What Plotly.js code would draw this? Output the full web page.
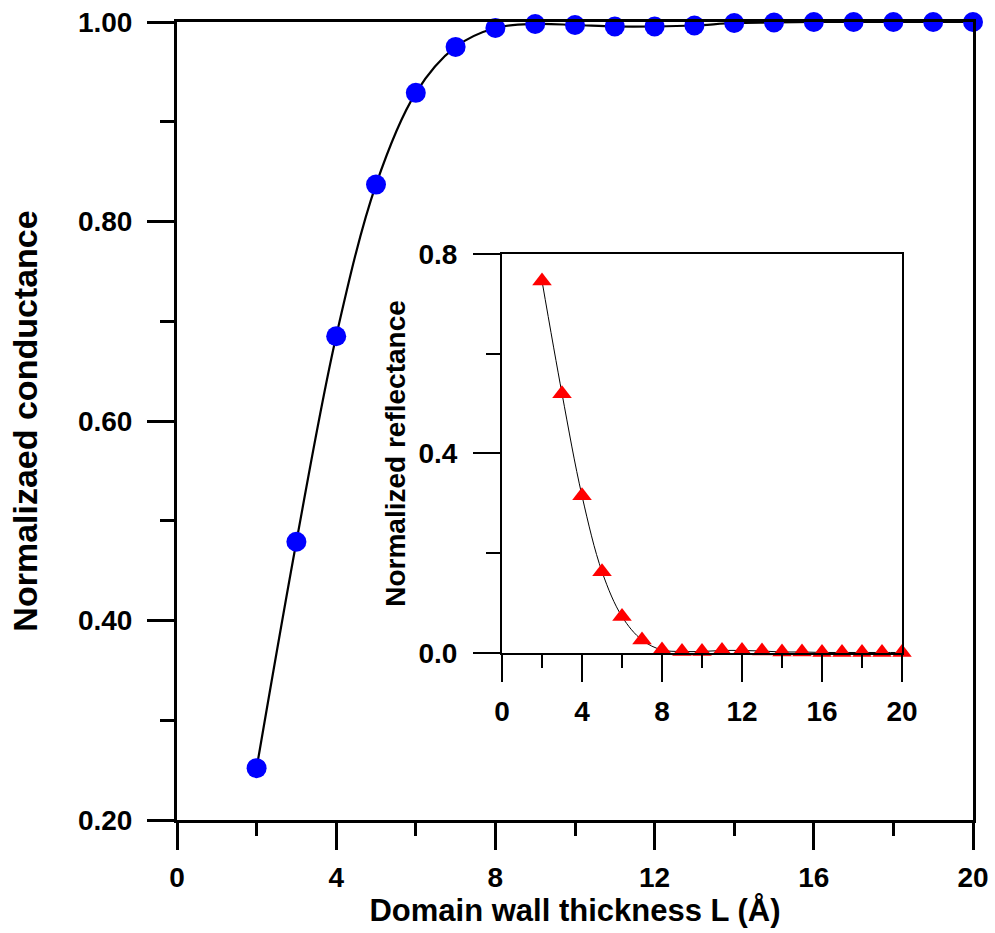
<!DOCTYPE html>
<html>
<head>
<meta charset="utf-8">
<script src="https://cdn.plot.ly/plotly-3.0.1.min.js"></script>
<style>html,body{margin:0;padding:0;background:#fff}#chart{width:995px;height:933px}</style>
</head>
<body>
<div id="chart"></div>
<script>
var thickness = [2,3,4,5,6,7,8,9,10,11,12,13,14,15,16,17,18,19,20];
var conductance = [0.252,0.479,0.685,0.837,0.929,0.975,0.994,0.998,0.997,0.9955,0.9955,0.9965,0.999,0.9995,1.0,1.0,1.0,1.0,1.0];
var reflectance = [0.746,0.520,0.315,0.163,0.073,0.026,0.006,0.003,0.003,0.005,0.005,0.004,0.002,0.002,0.001,0.001,0.001,0.001,0.001];
var xTickVals = [0,4,8,12,16,20];
var xTickText = ['0','4','8','12','16','20'];
var yTickVals = [0.2,0.4,0.6,0.8,1.0];
var yTickText = ['0.20','0.40','0.60','0.80','1.00'];
var y2TickVals = [0,0.4,0.8];
var y2TickText = ['0.0','0.4','0.8'];

var FONT = 'Liberation Sans, Arial, sans-serif';

var traces = [
  {x: thickness, y: conductance, xaxis:'x', yaxis:'y', mode:'lines+markers', type:'scatter',
   line:{color:'#000', width:2.2, shape:'spline', smoothing:1},
   marker:{color:'#0000ff', size:20, symbol:'circle'}, cliponaxis:false, showlegend:false},
  {x: thickness, y: reflectance, xaxis:'x2', yaxis:'y2', mode:'lines+markers', type:'scatter',
   line:{color:'#000', width:1, shape:'spline', smoothing:1},
   marker:{color:'#ff0000', size:17, symbol:'triangle-up'}, cliponaxis:false, showlegend:false}
];

function axisBase(lw){
  return {showline:true, linecolor:'#000', linewidth:lw, mirror:true, showgrid:false, zeroline:false,
    ticks:'outside', tickcolor:'#000', tickwidth:lw, ticklen:27,
    tickfont:{family:FONT, size:28, color:'#000', weight:'bold'}};
}

var xa = Object.assign(axisBase(3), {range:[0,20], tickmode:'array', tickvals:xTickVals, ticktext:xTickText,
  minor:{dtick:2, tick0:0, ticklen:13, tickwidth:3, tickcolor:'#000', ticks:'outside', showgrid:false},
  ticklabelstandoff:3, domain:[0,1], anchor:'y',
  title:{text:'Domain wall thickness L (Å)', font:{family:FONT, size:31, color:'#000', weight:'bold'}, standoff:6}});
var ya = Object.assign(axisBase(3), {range:[0.2,1.0], tickmode:'array', tickvals:yTickVals, ticktext:yTickText,
  minor:{dtick:0.1, tick0:0.2, ticklen:14, tickwidth:3, tickcolor:'#000', ticks:'outside', showgrid:false},
  ticklabelstandoff:9, domain:[0,1], anchor:'x',
  title:{text:'Normalizaed conductance', font:{family:FONT, size:34, color:'#000', weight:'bold'}, standoff:31}});
var xa2 = Object.assign(axisBase(2), {range:[0,20], tickmode:'array', tickvals:xTickVals, ticktext:xTickText,
  minor:{dtick:2, tick0:0, ticklen:13, tickwidth:2, tickcolor:'#000', ticks:'outside', showgrid:false},
  ticklabelstandoff:5, domain:[0.4083,0.9108], anchor:'y2'});
var ya2 = Object.assign(axisBase(2), {range:[0,0.8], tickmode:'array', tickvals:y2TickVals, ticktext:y2TickText,
  minor:{dtick:0.2, tick0:0, ticklen:14, tickwidth:2, tickcolor:'#000', ticks:'outside', showgrid:false},
  ticklabelstandoff:10, domain:[0.2093,0.7093], anchor:'x2',
  title:{text:'Normalized reflectance', font:{family:FONT, size:28, color:'#000', weight:'bold'}, standoff:5}});

var layout = {
  width:995, height:933,
  margin:{l:177, r:22, t:22, b:113},
  paper_bgcolor:'#fff', plot_bgcolor:'#fff',
  xaxis:xa, yaxis:ya, xaxis2:xa2, yaxis2:ya2,
  showlegend:false
};

Plotly.newPlot('chart', traces, layout, {staticPlot:true, displayModeBar:false});
</script>
</body>
</html>
